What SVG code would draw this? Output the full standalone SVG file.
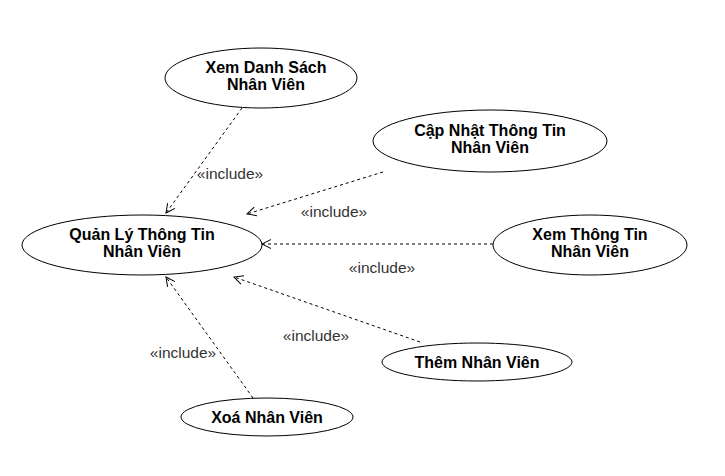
<svg xmlns="http://www.w3.org/2000/svg" width="725" height="476" viewBox="0 0 725 476">
<defs>
<marker id="open" markerWidth="12" markerHeight="12" refX="10" refY="5" orient="auto" markerUnits="userSpaceOnUse" viewBox="0 0 12 10">
<path d="M1,0.5 L10,5 L1,9.5" fill="none" stroke="#000" stroke-width="1"/>
</marker>
</defs>
<style>
.uc{fill:#fff;stroke:#000;stroke-width:1}
.t{font-family:"Liberation Sans",Arial,sans-serif;font-size:16px;font-weight:bold;fill:#000;text-anchor:middle}
.e{stroke:#000;stroke-width:1;stroke-dasharray:3,3;fill:none;marker-end:url(#open)}
.l{font-family:"Liberation Sans",Arial,sans-serif;font-size:15.5px;fill:#333;text-anchor:middle}
</style>
<rect width="725" height="476" fill="#fff"/>
<g id="connectors">
<line class="e" x1="242" y1="108" x2="166" y2="213"/>
<line class="e" x1="383" y1="172" x2="247" y2="214"/>
<line class="e" x1="493" y1="244" x2="262" y2="244"/>
<line class="e" x1="420" y1="342" x2="234" y2="277"/>
<line class="e" x1="253" y1="398" x2="166" y2="277"/>
<text class="l" x="230" y="179">«include»</text>
<text class="l" x="334" y="217">«include»</text>
<text class="l" x="382" y="273">«include»</text>
<text class="l" x="316" y="341">«include»</text>
<text class="l" x="183" y="358">«include»</text>
</g>
<g id="xem-danh-sach">
<ellipse class="uc" cx="261" cy="78" rx="96" ry="30"/>
<text class="t" x="266" y="73">Xem Danh Sách</text>
<text class="t" x="266" y="90">Nhân Viên</text>
</g>
<g id="cap-nhat">
<ellipse class="uc" cx="490" cy="141" rx="117" ry="31"/>
<text class="t" x="490" y="136">Cập Nhật Thông Tin</text>
<text class="t" x="490" y="153">Nhân Viên</text>
</g>
<g id="quan-ly">
<ellipse class="uc" cx="142" cy="245" rx="120" ry="30"/>
<text class="t" x="142" y="240">Quản Lý Thông Tin</text>
<text class="t" x="142" y="257">Nhân Viên</text>
</g>
<g id="xem-thong-tin">
<ellipse class="uc" cx="590" cy="245" rx="97" ry="30"/>
<text class="t" x="590" y="240">Xem Thông Tin</text>
<text class="t" x="590" y="257">Nhân Viên</text>
</g>
<g id="them">
<ellipse class="uc" cx="477" cy="362" rx="95" ry="19"/>
<text class="t" x="477" y="368">Thêm Nhân Viên</text>
</g>
<g id="xoa">
<ellipse class="uc" cx="267" cy="417" rx="86" ry="19"/>
<text class="t" x="267" y="423">Xoá Nhân Viên</text>
</g>
</svg>
